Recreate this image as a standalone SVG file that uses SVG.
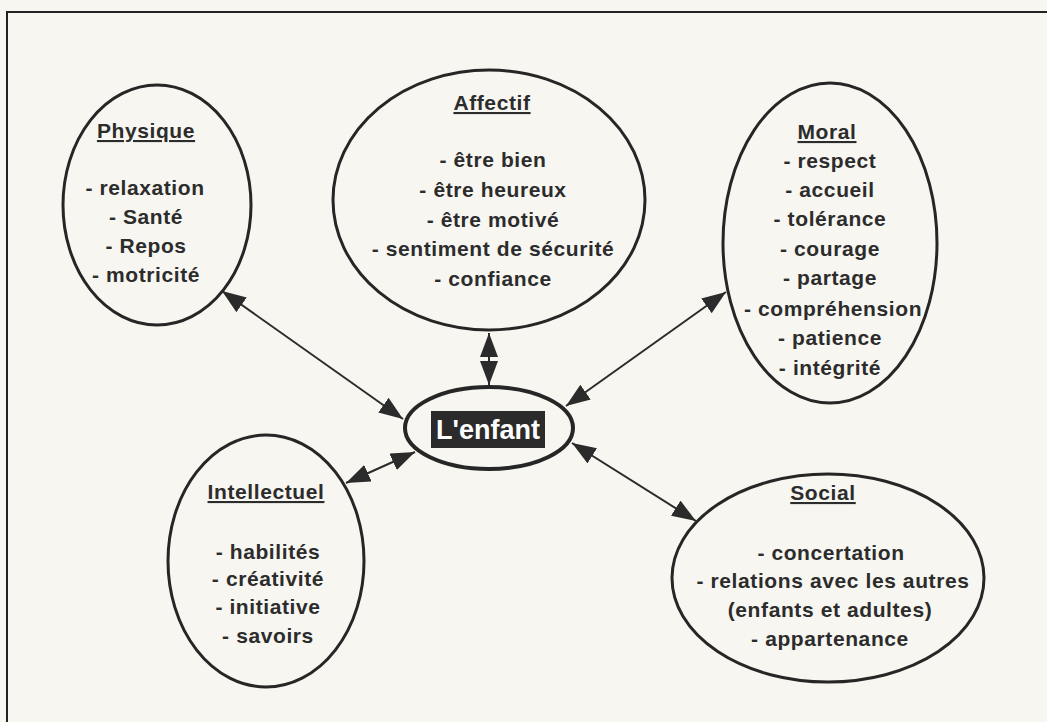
<svg xmlns="http://www.w3.org/2000/svg" width="1047" height="722" viewBox="0 0 1047 722">
<defs>
<marker id="ah" viewBox="0 0 24 18" refX="24" refY="9" markerWidth="24" markerHeight="18" markerUnits="userSpaceOnUse" orient="auto-start-reverse">
<path d="M0,0 L24,9 L0,18 z" fill="#2b2b2b"/>
</marker>
</defs>
<style>
.bg{fill:#f7f6f1}
.frame{fill:none;stroke:#222;stroke-width:2}
.node{fill:none;stroke:#262626;stroke-width:3}
.t{font-family:"Liberation Sans",Arial,sans-serif;font-weight:bold;font-size:21px;fill:#2c2c2c;text-anchor:middle;letter-spacing:0.6px}
.h{text-decoration:underline}
.conn{stroke:#2b2b2b;stroke-width:2;fill:none;marker-start:url(#ah);marker-end:url(#ah)}
</style>
<rect class="bg" x="0" y="0" width="1047" height="722"/>
<path class="frame" d="M7,722 L7,12 L1047,12"/>
<g id="connectors">
<line class="conn" x1="222" y1="291" x2="403" y2="419"/>
<line class="conn" x1="489" y1="333" x2="489" y2="385"/>
<line class="conn" x1="726" y1="292" x2="566" y2="406"/>
<line class="conn" x1="346" y1="483" x2="415" y2="452"/>
<line class="conn" x1="572" y1="443" x2="696" y2="521"/>
</g>
<g id="physique">
<ellipse class="node" cx="157" cy="205" rx="94" ry="120"/>
<text class="t h" x="146" y="138">Physique</text>
<text class="t" x="145" y="195">- relaxation</text>
<text class="t" x="146" y="224">- Santé</text>
<text class="t" x="146" y="253">- Repos</text>
<text class="t" x="146" y="282">- motricité</text>
</g>
<g id="affectif">
<ellipse class="node" cx="489" cy="200" rx="156" ry="130"/>
<text class="t h" x="492" y="110">Affectif</text>
<text class="t" x="493" y="167">- être bien</text>
<text class="t" x="493" y="197">- être heureux</text>
<text class="t" x="493" y="227">- être motivé</text>
<text class="t" x="493" y="256">- sentiment de sécurité</text>
<text class="t" x="493" y="286">- confiance</text>
</g>
<g id="moral">
<ellipse class="node" cx="830" cy="243" rx="107" ry="160"/>
<text class="t h" x="827" y="139">Moral</text>
<text class="t" x="830" y="168">- respect</text>
<text class="t" x="830" y="197">- accueil</text>
<text class="t" x="830" y="226">- tolérance</text>
<text class="t" x="830" y="256">- courage</text>
<text class="t" x="830" y="285">- partage</text>
<text class="t" x="833" y="316">- compréhension</text>
<text class="t" x="830" y="345">- patience</text>
<text class="t" x="830" y="375">- intégrité</text>
</g>
<g id="enfant">
<ellipse cx="489" cy="428" rx="84" ry="41" fill="none" stroke="#262626" stroke-width="4"/>
<rect x="431" y="411" width="114" height="37" fill="#2b2b2b"/>
<text x="488" y="439" font-family="Liberation Sans,Arial,sans-serif" font-weight="bold" font-size="27" fill="#ffffff" text-anchor="middle">L'enfant</text>
</g>
<g id="intellectuel">
<ellipse class="node" cx="266" cy="561" rx="98" ry="126"/>
<text class="t h" x="266" y="499">Intellectuel</text>
<text class="t" x="268" y="559">- habilités</text>
<text class="t" x="268" y="586">- créativité</text>
<text class="t" x="268" y="614">- initiative</text>
<text class="t" x="268" y="643">- savoirs</text>
</g>
<g id="social">
<ellipse class="node" cx="828" cy="578" rx="156" ry="104"/>
<text class="t h" x="823" y="500">Social</text>
<text class="t" x="831" y="560">- concertation</text>
<text class="t" x="833" y="588">- relations avec les autres</text>
<text class="t" x="830" y="617">(enfants et adultes)</text>
<text class="t" x="830" y="646">- appartenance</text>
</g>
</svg>
